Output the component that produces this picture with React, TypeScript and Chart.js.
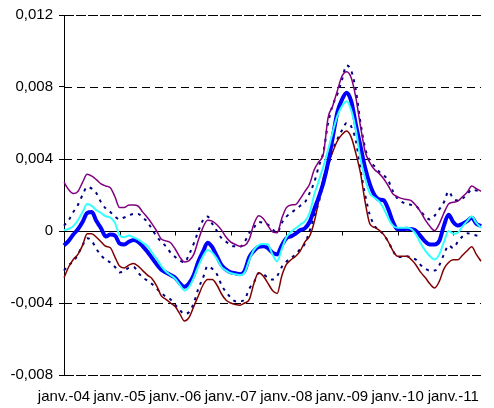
import React, { useEffect, useRef } from 'react';
import { Chart, registerables } from 'chart.js';

Chart.register(...registerables);

// Monthly observations, January 2004 to July 2011
const MONTHS = ['janv.', 'févr.', 'mars', 'avr.', 'mai', 'juin', 'juil.', 'août', 'sept.', 'oct.', 'nov.', 'déc.'];
const START_YEAR = 2004;
const MONTH_COUNT = 91;
const categories: string[] = Array.from({ length: MONTH_COUNT }, (_, i) => {
  const yy = String((START_YEAR + Math.floor(i / 12)) % 100).padStart(2, '0');
  return `${MONTHS[i % 12]}-${yy}`;
});

// Values are expressed in thousandths
const UNIT = 0.001;

const upperBound = [
  2.71, 2.3, 2.08, 2.2, 2.7, 3.15, 3.05, 2.85, 2.62, 2.5, 2.4, 1.9,
  1.3, 1.3, 1.45, 1.45, 1.38, 1.05, 0.75, 0.4, 0.0, -0.45, -0.55, -0.65,
  -1.0, -1.45, -1.72, -1.65, -1.3, -0.5, 0.2, 0.6, 0.55, 0.35, 0.05, -0.35,
  -0.62, -0.75, -0.85, -0.8, -0.45, 0.4, 0.85, 0.7, 0.3, -0.05, -0.1, 0.7,
  1.3, 1.45, 1.47, 1.8, 2.2, 2.6, 3.4, 3.85, 4.3, 6.3, 6.95, 7.8,
  8.6, 8.85, 8.5, 7.4, 5.8, 4.4, 3.8, 3.42, 3.2, 2.9, 2.5, 2.05,
  1.9, 1.8, 1.75, 1.68, 1.4, 1.05, 0.6, 0.25, 0.02, 0.4, 1.0, 1.5,
  1.6, 1.66, 1.9, 2.15, 2.5, 2.35, 2.21,
];

const upperDotted = [
  0.3, 0.6, 1.05, 1.45, 2.0, 2.45, 2.35, 2.1, 1.6, 1.25, 1.05, 0.8,
  0.65, 0.75, 0.85, 0.95, 0.95, 0.75, 0.5, 0.1, -0.3, -0.6, -0.85, -1.2,
  -1.45, -1.65, -1.75, -1.3, -0.7, 0.0, 0.6, 0.8, 0.4, 0.0, -0.4, -0.6,
  -0.8, -0.86, -0.88, -0.6, -0.1, 0.2, 0.5, 0.45, 0.35, 0.1, -0.1, 0.45,
  0.8, 1.0, 1.2, 1.4, 1.6, 2.1, 2.7, 3.6, 4.4, 6.0, 7.0, 7.6,
  8.4, 9.2, 8.9, 7.8, 6.0, 4.6, 3.9, 3.6, 3.3, 3.1, 2.8, 2.2,
  1.8, 1.6, 1.5, 1.45, 1.38, 1.1, 0.8, 0.64, 0.85, 1.2, 1.6, 2.2,
  1.8, 1.7, 1.8, 2.05, 2.3, 2.25, 2.21,
];

const central = [
  -0.8, -0.55, -0.2, 0.1, 0.5, 1.0, 1.05, 0.55, 0.15, -0.3, -0.2, -0.25,
  -0.7, -0.75, -0.6, -0.5, -0.6, -0.85, -1.15, -1.5, -1.85, -2.15, -2.3, -2.45,
  -2.6, -2.9, -3.1, -2.9, -2.45, -1.7, -1.15, -0.65, -0.9, -1.4, -1.9, -2.15,
  -2.3, -2.35, -2.4, -2.2, -1.45, -1.1, -0.88, -0.85, -0.95, -1.2, -1.3, -0.8,
  -0.4, -0.3, -0.15, 0.05, 0.15, 0.5, 1.2, 1.9, 2.7, 3.8, 5.2, 6.6,
  7.3, 7.68, 7.2, 5.9, 4.7, 3.5, 2.6, 2.0, 1.75, 1.7, 1.2, 0.5,
  0.1, 0.1, 0.12, 0.1, 0.0, -0.3, -0.6, -0.75, -0.75, -0.55, 0.3, 0.9,
  0.5, 0.3, 0.4, 0.55, 0.73, 0.4, 0.27,
];

const alternative = [
  0.05, 0.12, 0.27, 0.6, 1.05, 1.5, 1.4, 1.15, 1.0, 0.82, 0.75, 0.45,
  -0.25, -0.35, -0.25, -0.35, -0.47, -0.65, -0.84, -1.2, -1.55, -1.95, -2.25, -2.45,
  -2.65, -3.0, -3.3, -3.1, -2.6, -1.95, -1.4, -1.05, -1.2, -1.55, -2.0, -2.2,
  -2.35, -2.4, -2.45, -2.3, -1.6, -1.05, -0.78, -0.72, -0.75, -1.3, -1.68, -1.0,
  -0.35, -0.05, 0.15, 0.35, 0.55, 1.0, 2.0, 2.8, 3.6, 4.5, 5.5, 6.4,
  6.93, 7.21, 6.7, 5.6, 4.0, 2.9, 2.1, 1.85, 1.65, 1.25, 0.7, 0.3,
  0.18, 0.18, 0.18, 0.1, -0.2, -0.7, -1.1, -1.4, -1.58, -1.3, -0.6, 0.0,
  -0.15, -0.1, 0.25, 0.55, 0.8, 0.45, 0.18,
];

const lowerDotted = [
  -2.2, -1.9, -1.7, -1.3, -0.8, -0.4, -0.55, -1.0, -1.35, -1.6, -1.75, -2.0,
  -2.3, -2.2, -2.05, -2.0, -2.3, -2.6, -2.75, -2.95, -3.2, -3.45, -3.65, -3.8,
  -4.1, -4.4, -4.6, -4.5, -4.0, -3.2, -2.6, -1.95, -2.1, -2.4, -3.0, -3.4,
  -3.7, -3.9, -3.9, -3.8, -3.2, -2.85, -2.35, -2.4, -2.6, -2.7, -2.5, -2.0,
  -1.7, -1.5, -1.3, -1.0, -0.7, 0.0, 0.8, 1.6, 2.7, 3.6, 4.5, 5.1,
  5.6, 6.0, 5.8, 5.0, 3.4, 2.0, 0.9, 0.3, 0.05, -0.2, -0.6, -1.1,
  -1.45, -1.45, -1.4, -1.5, -1.6, -1.9, -2.1, -2.2, -2.2, -1.9, -1.3, -0.8,
  -0.95, -0.6, -0.3, -0.12, -0.18, -0.25, -0.3,
];

const lowerBound = [
  -2.6, -2.0, -1.58, -1.3, -0.8, -0.15, -0.15, -0.35, -0.6, -0.85, -0.93, -1.45,
  -1.95, -2.05, -1.9, -1.8, -1.95, -2.2, -2.45, -2.65, -3.05, -3.6, -3.8, -4.0,
  -4.2, -4.6, -5.0, -4.8, -4.2, -3.6, -3.0, -2.7, -2.7, -3.0, -3.5, -3.85,
  -4.0, -4.08, -4.12, -4.0, -3.8, -2.9, -2.32, -2.5, -2.9, -3.3, -3.47, -2.5,
  -1.86, -1.6, -1.4, -1.1, -0.6, -0.29, 0.5, 1.7, 3.0, 3.7, 4.4, 5.0,
  5.36, 5.55, 5.2, 4.3, 3.2, 1.6, 0.4, 0.2, 0.05, -0.2, -0.6, -1.1,
  -1.4, -1.4, -1.4, -1.6, -1.9, -2.3, -2.6, -2.95, -3.16, -2.8, -2.1, -1.75,
  -1.6, -1.6, -1.35, -1.1, -0.88, -1.3, -1.68,
];

const Y_TICKS = [-0.008, -0.004, 0, 0.004, 0.008, 0.012];

const FONT = '"Liberation Sans", Arial, sans-serif';

const isJanuary = (i: number) => categories[i] !== undefined && categories[i].startsWith('janv.');

const formatTick = (v: number) => {
  const r = Math.round(v * 1000) / 1000;
  if (r === 0) return '0';
  return r.toFixed(3).replace('.', ',');
};

// Horizontal reference lines plus the zero axis with yearly tick marks
const referenceLines = {
  id: 'referenceLines',
  beforeDatasetsDraw(chart: any) {
    const { ctx, chartArea: a, scales } = chart;
    const x = scales.x;
    const y = scales.y;
    ctx.save();
    ctx.strokeStyle = '#000';
    ctx.lineWidth = 1;
    const first = Y_TICKS[0];
    const last = Y_TICKS[Y_TICKS.length - 1];
    for (const t of Y_TICKS) {
      if (t === 0) continue;
      const py = Math.round(y.getPixelForValue(t)) + 0.5;
      ctx.setLineDash(t === first || t === last ? [10, 2] : [8, 5]);
      ctx.beginPath();
      ctx.moveTo(a.left, py);
      ctx.lineTo(a.right, py);
      ctx.stroke();
    }
    ctx.setLineDash([]);
    const zy = Math.round(y.getPixelForValue(0)) + 0.5;
    ctx.beginPath();
    ctx.moveTo(a.left, zy);
    ctx.lineTo(a.right, zy);
    ctx.stroke();
    for (let i = 0; i < categories.length; i++) {
      if (!isJanuary(i)) continue;
      const px = Math.round(x.getPixelForValue(i)) + 0.5;
      ctx.beginPath();
      ctx.moveTo(px, zy);
      ctx.lineTo(px, zy + 4);
      ctx.stroke();
    }
    ctx.restore();
  },
};

const toValues = (arr: number[]) => arr.map((v) => v * UNIT);

export default function App() {
  const canvasRef = useRef<HTMLCanvasElement | null>(null);

  useEffect(() => {
    if (!canvasRef.current) return;
    const common = { pointRadius: 0, fill: false, cubicInterpolationMode: 'monotone' as const };
    const chart = new Chart(canvasRef.current, {
      type: 'line',
      data: {
        labels: categories,
        datasets: [
          { ...common, label: 'alternative', data: toValues(alternative), borderColor: '#33FFFF', borderWidth: 2, order: 1 },
          { ...common, label: 'central', data: toValues(central), borderColor: '#0000FF', borderWidth: 4, order: 2 },
          { ...common, label: 'upper', data: toValues(upperBound), borderColor: '#800080', borderWidth: 1.5, order: 3 },
          { ...common, label: 'lower', data: toValues(lowerBound), borderColor: '#800000', borderWidth: 1.5, order: 3 },
          { ...common, label: 'upper band', data: toValues(upperDotted), borderColor: '#000080', borderWidth: 2, borderDash: [3, 5], order: 4 },
          { ...common, label: 'lower band', data: toValues(lowerDotted), borderColor: '#000080', borderWidth: 2, borderDash: [3, 5], order: 4 },
        ],
      },
      options: {
        responsive: false,
        animation: false,
        events: [],
        layout: { padding: { top: 15, right: 1, left: 0, bottom: 0 } },
        plugins: { legend: { display: false }, tooltip: { enabled: false } },
        scales: {
          x: {
            type: 'category',
            offset: false,
            grid: { display: false, drawTicks: false },
            border: { display: false },
            ticks: {
              autoSkip: false,
              maxRotation: 0,
              minRotation: 0,
              padding: 13,
              color: '#000',
              font: { family: FONT, size: 15 },
              callback: (_v: any, i: number) => (isJanuary(i) ? categories[i] : ''),
            },
            afterFit: (scale: any) => {
              scale.height = 33;
            },
          },
          y: {
            type: 'linear',
            min: Y_TICKS[0],
            max: Y_TICKS[Y_TICKS.length - 1],
            afterBuildTicks: (scale: any) => {
              scale.ticks = Y_TICKS.map((v) => ({ value: v }));
            },
            grid: { display: true, drawOnChartArea: false, drawTicks: true, tickLength: 5, tickColor: '#000', color: '#000' },
            border: { display: true, color: '#000', width: 1 },
            ticks: {
              padding: 6,
              color: '#000',
              font: { family: FONT, size: 15 },
              callback: (v: any) => formatTick(Number(v)),
            },
            afterFit: (scale: any) => {
              scale.width = 64;
            },
          },
        },
      },
      plugins: [referenceLines],
    });
    return () => chart.destroy();
  }, []);

  return (
    <div style={{ position: 'fixed', left: 0, top: 0, width: 494, height: 408, background: '#fff' }}>
      <canvas ref={canvasRef} width={494} height={408} style={{ display: 'block' }} />
    </div>
  );
}
